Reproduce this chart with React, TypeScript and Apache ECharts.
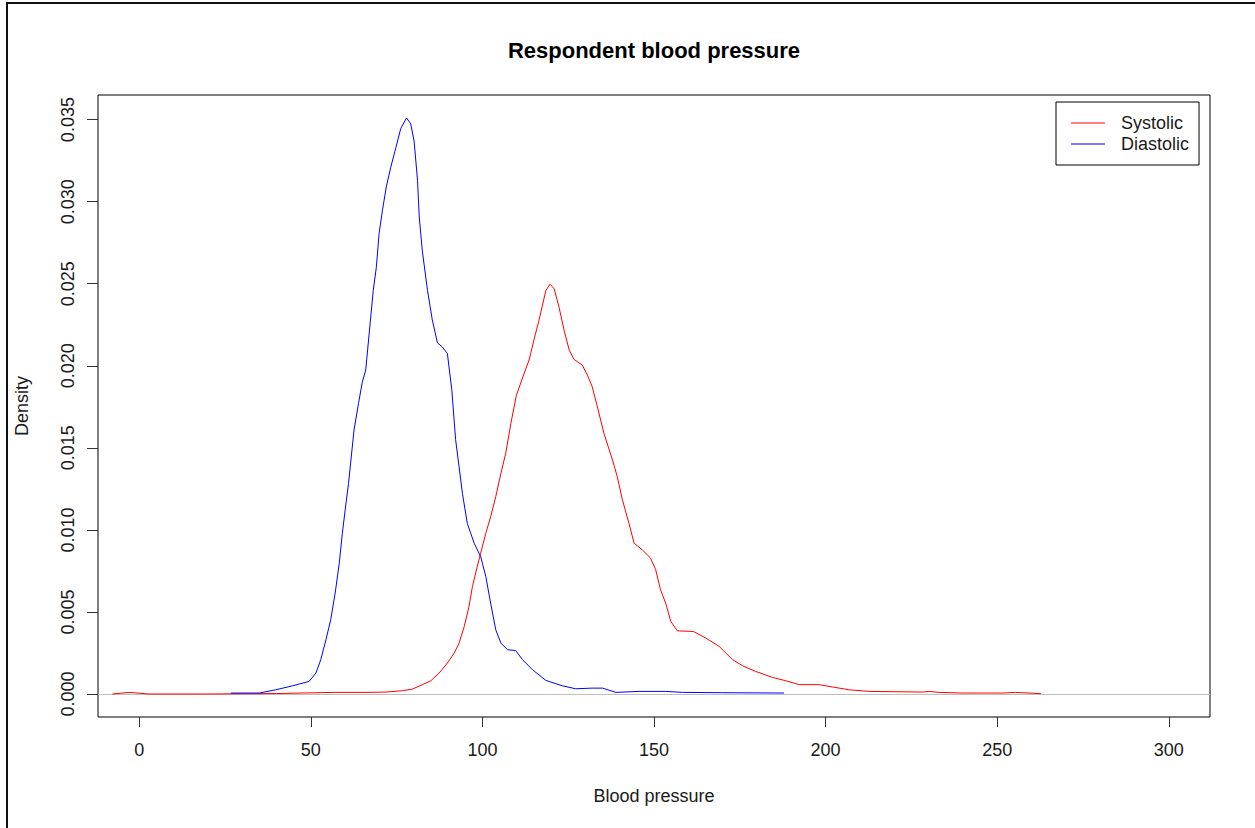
import React, { useEffect, useRef } from "react";
import * as echarts from "echarts";

const systolicX = [-7.8, -2.9, 2.9, 20, 40, 56.8, 67, 71.9, 76.7, 79.6, 82.5, 85.0, 87.4, 89.8, 91.8, 93.2, 94.7, 96.1, 97.1, 98.5, 99.5, 101.0, 102.4, 103.9, 105.4, 106.8, 108.3, 109.9, 112.1, 113.6, 115.0, 116.5, 118.5, 119.7, 120.9, 122.3, 123.8, 125.3, 126.7, 129.1, 130.6, 132.0, 133.5, 135.4, 137.9, 139.3, 140.8, 142.7, 144.2, 146.6, 149.0, 150.5, 151.9, 153.4, 154.9, 156.8, 161.5, 165.1, 169.0, 172.9, 175.8, 179.6, 184.5, 188.4, 192.3, 198.1, 202.0, 206.8, 212.6, 228.2, 230.1, 233.0, 239.8, 251.5, 255.4, 262.7];
const systolicY = [0, 0.1, 0, 0, 0.03, 0.1, 0.1, 0.12, 0.2, 0.3, 0.57, 0.81, 1.28, 1.89, 2.5, 3.1, 4.11, 5.33, 6.55, 7.77, 8.58, 9.8, 10.8, 12.03, 13.45, 14.67, 16.49, 18.2, 19.5, 20.35, 21.56, 22.78, 24.6, 24.97, 24.7, 23.6, 22.17, 20.95, 20.39, 20.04, 19.43, 18.72, 17.5, 15.89, 14.26, 13.24, 11.83, 10.41, 9.19, 8.78, 8.28, 7.57, 6.35, 5.54, 4.42, 3.85, 3.81, 3.41, 2.9, 2.09, 1.72, 1.38, 1.01, 0.81, 0.57, 0.57, 0.43, 0.26, 0.16, 0.12, 0.16, 0.1, 0.06, 0.06, 0.1, 0.02];

const diastolicX = [26.7, 35.0, 39.8, 44.7, 49.5, 51.5, 52.9, 54.4, 55.8, 57.1, 58.3, 59.2, 60.0, 61.0, 62.0, 62.6, 63.9, 65.0, 66.0, 67.3, 68.2, 69.1, 69.9, 70.9, 72.0, 73.3, 74.8, 76.2, 77.9, 79.1, 80.1, 81.1, 81.6, 82.5, 84.0, 85.4, 86.9, 88.3, 89.8, 91.1, 92.2, 93.2, 94.2, 95.6, 97.6, 99.5, 101.0, 102.4, 103.9, 105.4, 107.3, 109.7, 111.7, 114.6, 118.5, 123.3, 127.2, 132.0, 135.0, 138.9, 145.6, 153.4, 158.3, 170, 187.9];
const diastolicY = [0.06, 0.06, 0.26, 0.5, 0.77, 1.28, 2.09, 3.3, 4.52, 6.15, 7.97, 9.8, 11.2, 12.84, 14.87, 16.09, 17.7, 19.0, 19.74, 22.6, 24.6, 26.0, 28.06, 29.5, 30.9, 32.1, 33.3, 34.45, 35.1, 34.75, 33.7, 31.3, 29.07, 27.0, 24.6, 22.8, 21.4, 21.15, 20.75, 18.5, 15.5, 13.85, 12.2, 10.4, 9.19, 8.37, 7.16, 5.54, 3.91, 3.10, 2.70, 2.65, 2.09, 1.48, 0.83, 0.50, 0.32, 0.36, 0.36, 0.10, 0.16, 0.16, 0.10, 0.08, 0.06];

const xTicks = [0, 50, 100, 150, 200, 250, 300];
const yTicks = [0, 0.005, 0.01, 0.015, 0.02, 0.025, 0.03, 0.035];
const seriesNames = ["Systolic", "Diastolic"];

const FONT = "'Liberation Sans', Arial, sans-serif";

const toPairs = (xs: number[], ys: number[]) => xs.map((x, i) => [x, ys[i] / 1000]);

export default function App() {
  const ref = useRef<HTMLDivElement>(null);
  useEffect(() => {
    if (!ref.current) return;
    const chart = echarts.init(ref.current, null, { renderer: "svg" });
    chart.setOption({
      animation: false,
      backgroundColor: "#ffffff",
      grid: {
        left: 98,
        right: 45,
        top: 95,
        bottom: 111,
        show: true,
        borderColor: "#000000",
        borderWidth: 1,
        backgroundColor: "transparent",
      },
      xAxis: {
        type: "value",
        min: -12,
        max: 312,
        axisLine: { show: false, onZero: false },
        splitLine: { show: false },
        axisTick: {
          show: true,
          customValues: xTicks,
          length: 10,
          lineStyle: { color: "#333", width: 1 },
        },
        axisLabel: {
          customValues: xTicks,
          fontSize: 18,
          fontFamily: FONT,
          color: "#1a1a1a",
          margin: 24,
        },
      },
      yAxis: {
        type: "value",
        min: -0.0014,
        max: 0.0365,
        axisLine: { show: false, onZero: false },
        splitLine: { show: false },
        axisTick: {
          show: true,
          customValues: yTicks,
          length: 11,
          lineStyle: { color: "#333", width: 1 },
        },
        axisLabel: {
          customValues: yTicks,
          rotate: 90,
          fontSize: 18,
          fontFamily: FONT,
          color: "#1a1a1a",
          margin: 21,
          formatter: (v: number) => v.toFixed(3),
        },
      },
      legend: {
        orient: "vertical",
        left: 1056,
        top: 102,
        padding: [12, 10, 12, 15],
        icon: "rect",
        itemWidth: 34,
        itemHeight: 1,
        itemGap: 3,
        borderColor: "#000",
        borderWidth: 1,
        data: seriesNames,
        textStyle: {
          fontSize: 18,
          fontFamily: FONT,
          color: "#1a1a1a",
          padding: [0, 0, 0, 11],
        },
      },
      series: [
        {
          name: seriesNames[0],
          type: "line",
          data: toPairs(systolicX, systolicY),
          symbol: "none",
          smooth: false,
          lineStyle: { color: "#ff0000", width: 1 },
          itemStyle: { color: "#ff0000" },
          z: 3,
          markLine: {
            silent: true,
            symbol: "none",
            z: 1,
            label: { show: false },
            lineStyle: { color: "#bebebe", type: "solid", width: 1 },
            data: [{ yAxis: 0 }],
          },
        },
        {
          name: seriesNames[1],
          type: "line",
          data: toPairs(diastolicX, diastolicY),
          symbol: "none",
          smooth: false,
          lineStyle: { color: "#0000ff", width: 1 },
          itemStyle: { color: "#0000ff" },
          z: 4,
        },
      ],
      graphic: [
        {
          type: "text",
          style: {
            text: "Respondent blood pressure",
            x: 654,
            y: 50,
            textAlign: "center",
            textVerticalAlign: "middle",
            fontSize: 22,
            fontWeight: "bold",
            fontFamily: FONT,
            fill: "#000",
          },
        },
        {
          type: "text",
          style: {
            text: "Blood pressure",
            x: 654,
            y: 796,
            textAlign: "center",
            textVerticalAlign: "middle",
            fontSize: 18,
            fontFamily: FONT,
            fill: "#1a1a1a",
          },
        },
        {
          type: "text",
          x: 22,
          y: 406,
          rotation: Math.PI / 2,
          style: {
            text: "Density",
            x: 0,
            y: 0,
            textAlign: "center",
            textVerticalAlign: "middle",
            fontSize: 18,
            fontFamily: FONT,
            fill: "#1a1a1a",
          },
        },
        {
          type: "line",
          shape: { x1: 7, y1: 3, x2: 7, y2: 828 },
          style: { stroke: "#111", lineWidth: 2 },
        },
        {
          type: "line",
          shape: { x1: 6, y1: 3, x2: 1255, y2: 3 },
          style: { stroke: "#111", lineWidth: 2 },
        },
      ],
    });
    return () => chart.dispose();
  }, []);
  return (
    <div
      ref={ref}
      style={{ position: "absolute", left: 0, top: 0, width: 1255, height: 828 }}
    />
  );
}
